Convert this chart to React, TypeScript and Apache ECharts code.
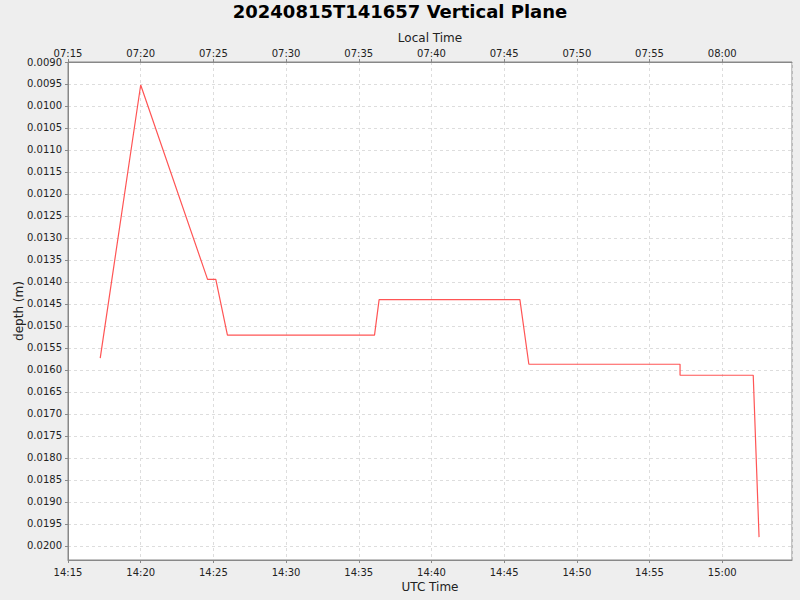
import React, { useEffect, useRef } from "react";
import * as echarts from "echarts";

// UTC times of the samples and their depth (m)
const utcTimes = [
  "14:17:13", "14:20:00", "14:24:36", "14:25:10", "14:25:58", "14:36:05",
  "14:36:24", "14:46:05", "14:46:42", "14:57:06", "14:57:06", "15:02:08", "15:02:32",
];
const depths = [
  0.01573, 0.009523, 0.01394, 0.01394, 0.01521, 0.01521,
  0.01440, 0.01440, 0.01587, 0.01587, 0.01612, 0.01612, 0.01980,
];

const xMinMinutes = 855; // 14:15 UTC
const xMaxMinutes = 904.8;
const localOffsetMinutes = -420; // UTC-7
const yMin = 0.009;
const yMax = 0.02032;
const yStep = 0.0005;
const titleText = "20240815T141657 Vertical Plane";

const toMinutes = (s: string) => {
  const [h, m, sec] = s.split(":").map(Number);
  return h * 60 + m + sec / 60;
};
const fmtHM = (v: number) => {
  const t = ((Math.round(v) % 1440) + 1440) % 1440;
  const h = Math.floor(t / 60);
  const m = t % 60;
  return String(h).padStart(2, "0") + ":" + String(m).padStart(2, "0");
};

const FONT = "DejaVu Sans";

export default function App() {
  const ref = useRef<HTMLDivElement>(null);
  useEffect(() => {
    if (!ref.current) return;
    const chart = echarts.init(ref.current, undefined, { renderer: "svg" });
    const data = utcTimes.map((t, i) => [toMinutes(t), depths[i]]);
    const axisLineStyle = { color: "#888888", width: 1 };
    const tickLabel = { fontFamily: FONT, fontSize: 10, color: "#222" };
    const nameStyle = { fontFamily: FONT, fontSize: 12, color: "#222" };
    chart.setOption({
      animation: false,
      backgroundColor: "#eeeeee",
      textStyle: { fontFamily: FONT },
      title: {
        text: titleText,
        left: "center",
        top: 2,
        padding: 0,
        textStyle: { fontFamily: FONT, fontSize: 18, fontWeight: "bold", color: "#000" },
      },
      grid: {
        left: 68,
        right: 8,
        top: 62,
        bottom: 40,
        show: true,
        backgroundColor: "#ffffff",
        borderColor: "#888888",
        borderWidth: 1,
        containLabel: false,
        outerBoundsMode: "none",
      },
      xAxis: [
        {
          type: "value",
          position: "bottom",
          min: xMinMinutes,
          max: xMaxMinutes,
          interval: 5,
          name: "UTC Time",
          nameLocation: "middle",
          nameGap: 21,
          nameMoveOverlap: false,
          nameTextStyle: nameStyle,
          axisLine: { show: true, lineStyle: axisLineStyle },
          axisTick: { show: true, length: 3, lineStyle: axisLineStyle },
          axisLabel: {
            ...tickLabel,
            margin: 7,
            showMaxLabel: false,
            formatter: (v: number) => fmtHM(v),
          },
          splitLine: { show: true, lineStyle: { color: "#dddddd", type: [3, 3], width: 1 } },
        },
        {
          type: "value",
          position: "top",
          min: xMinMinutes,
          max: xMaxMinutes,
          interval: 5,
          name: "Local Time",
          nameLocation: "middle",
          nameGap: 18,
          nameMoveOverlap: false,
          nameTextStyle: nameStyle,
          axisLine: { show: true, lineStyle: axisLineStyle },
          axisTick: { show: true, length: 3, lineStyle: axisLineStyle },
          axisLabel: {
            ...tickLabel,
            margin: 4,
            showMaxLabel: false,
            formatter: (v: number) => fmtHM(v + localOffsetMinutes),
          },
          splitLine: { show: false },
        },
      ],
      yAxis: {
        type: "value",
        inverse: true,
        min: yMin,
        max: yMax,
        interval: yStep,
        name: "depth (m)",
        nameLocation: "middle",
        nameGap: 43,
        nameMoveOverlap: false,
        nameTextStyle: nameStyle,
        axisLine: { show: true, lineStyle: axisLineStyle },
        axisTick: { show: true, length: 3, lineStyle: axisLineStyle },
        axisLabel: {
          ...tickLabel,
          margin: 6,
          showMaxLabel: false,
          formatter: (v: number) => v.toFixed(4),
        },
        splitLine: { show: true, lineStyle: { color: "#dddddd", type: [3, 3], width: 1 } },
      },
      series: [
        {
          type: "line",
          xAxisIndex: 0,
          data,
          showSymbol: false,
          symbol: "none",
          lineStyle: { color: "#ff5555", width: 1.2 },
        },
      ],
    });
    return () => chart.dispose();
  }, []);
  return <div ref={ref} style={{ width: 800, height: 600, position: "fixed", left: 0, top: 0 }} />;
}
